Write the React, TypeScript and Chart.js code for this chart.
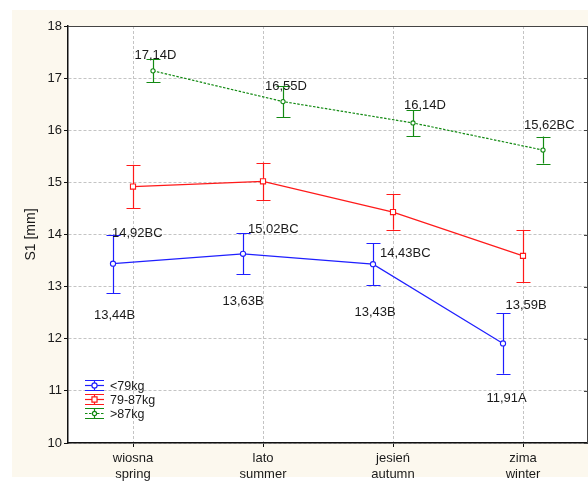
import React, { useEffect, useRef } from "react";
import { Chart, registerables } from "chart.js";

Chart.register(...registerables);

// ---- data ----
const seasonsPl = ["wiosna", "lato", "jesień", "zima"];
const seasonsEn = ["spring", "summer", "autumn", "winter"];
const seriesNames = ["<79kg", "79-87kg", ">87kg"];
const meanLow = [13.44, 13.63, 13.43, 11.91];
const meanMid = [14.92, 15.02, 14.43, 13.59];
const meanHigh = [17.14, 16.55, 16.14, 15.62];
const errLow = [0.56, 0.39, 0.4, 0.58];
const errMid = [0.42, 0.36, 0.34, 0.5];
const errHigh = [0.22, 0.3, 0.25, 0.26];
const labelsLow = ["13,44B", "13,63B", "13,43B", "11,91A"];
const labelsMid = ["14,92BC", "15,02BC", "14,43BC", "13,59B"];
const labelsHigh = ["17,14D", "16,55D", "16,14D", "15,62BC"];
const yTicks = [10, 11, 12, 13, 14, 15, 16, 17, 18];
const yTitle = "S1 [mm]";

// ---- styles ----
const FONT = "'Liberation Sans', Arial, sans-serif";
const PANEL = "#fcf8ee";
const colors = ["#1f1fff", "#ff1a1a", "#138a13"];
const seriesShift = [-20 / 130, 0, 20 / 130];
const pointStyles = ["circle", "rect", "circle"];
const pointRadii = [2.6, 3.6, 2.1];
const lineDashes = [[], [], [2.5, 1.5]];
const capHalf = 7;
// label offsets (px) from the point: [dx to text left, dy to text centre]
const labelOffsets = [
  [[-19, 50.5], [-20.5, 47], [-18.5, 47], [-16.5, 53.5]],
  [[-21, 45.5], [-15, 47], [-13, 40.5], [-17.5, 49]],
  [[-18.5, -16], [-18, -16], [-9, -19], [-19, -26]],
];

const means = [meanLow, meanMid, meanHigh];
const errs = [errLow, errMid, errHigh];
const labels = [labelsLow, labelsMid, labelsHigh];

const customPlugin = {
  id: "custom",
  beforeDraw(chart: any) {
    const { ctx, chartArea: a, width, height } = chart;
    ctx.save();
    ctx.fillStyle = "#ffffff";
    ctx.fillRect(0, 0, width, height);
    ctx.fillStyle = PANEL;
    ctx.fillRect(12, 10, 576, 467);
    ctx.fillStyle = "#ffffff";
    ctx.fillRect(a.left, a.top, a.right - a.left, a.bottom - a.top);
    ctx.restore();
  },
  beforeDatasetsDraw(chart: any) {
    const { ctx, chartArea: a } = chart;
    const ys = chart.scales.y;
    ctx.save();
    // top & right frame
    ctx.strokeStyle = "#444";
    ctx.lineWidth = 1;
    ctx.beginPath();
    ctx.moveTo(a.left, a.top + 0.5);
    ctx.lineTo(a.right, a.top + 0.5);
    ctx.moveTo(a.right - 0.5, a.top);
    ctx.lineTo(a.right - 0.5, a.bottom);
    ctx.stroke();
    ctx.beginPath();
    for (const v of yTicks) {
      const y = Math.round(ys.getPixelForValue(v)) + 0.5;
      ctx.moveTo(a.right - 4, y);
      ctx.lineTo(a.right, y);
    }
    ctx.stroke();
    // error bars
    for (let s = 0; s < 3; s++) {
      const meta = chart.getDatasetMeta(s);
      ctx.strokeStyle = colors[s];
      ctx.lineWidth = 1.2;
      meta.data.forEach((pt: any, j: number) => {
        const yt = ys.getPixelForValue(means[s][j] + errs[s][j]);
        const yb = ys.getPixelForValue(means[s][j] - errs[s][j]);
        const x = Math.round(pt.x) + 0.5;
        ctx.beginPath();
        ctx.moveTo(x, yt);
        ctx.lineTo(x, yb);
        ctx.moveTo(x - capHalf, Math.round(yt) + 0.5);
        ctx.lineTo(x + capHalf, Math.round(yt) + 0.5);
        ctx.moveTo(x - capHalf, Math.round(yb) + 0.5);
        ctx.lineTo(x + capHalf, Math.round(yb) + 0.5);
        ctx.stroke();
      });
    }
    ctx.restore();
  },
  afterDatasetsDraw(chart: any) {
    const { ctx } = chart;
    ctx.save();
    ctx.font = `13px ${FONT}`;
    ctx.fillStyle = "#1a1a1a";
    ctx.textAlign = "left";
    ctx.textBaseline = "alphabetic";
    for (let s = 0; s < 3; s++) {
      const meta = chart.getDatasetMeta(s);
      meta.data.forEach((pt: any, j: number) => {
        const [dx, dy] = labelOffsets[s][j];
        ctx.fillText(labels[s][j], pt.x + dx, pt.y + dy + 4.6);
      });
    }
    // legend
    const lx0 = 85;
    const lx1 = 104;
    const lxm = (lx0 + lx1) / 2;
    for (let s = 0; s < 3; s++) {
      const cy = 385.5 + 14 * s;
      ctx.strokeStyle = colors[s];
      ctx.lineWidth = 1.2;
      ctx.beginPath();
      ctx.moveTo(lx0, cy - 5);
      ctx.lineTo(lx1, cy - 5);
      ctx.moveTo(lx0, cy + 5);
      ctx.lineTo(lx1, cy + 5);
      ctx.moveTo(lxm, cy - 5);
      ctx.lineTo(lxm, cy + 5);
      ctx.stroke();
      ctx.setLineDash(lineDashes[s]);
      ctx.beginPath();
      ctx.moveTo(lx0, cy);
      ctx.lineTo(lx1, cy);
      ctx.stroke();
      ctx.setLineDash([]);
      ctx.fillStyle = "#fff";
      ctx.beginPath();
      if (pointStyles[s] === "rect") {
        const h = pointRadii[s] * Math.SQRT1_2;
        ctx.rect(lxm - h, cy - h, 2 * h, 2 * h);
      } else {
        ctx.arc(lxm, cy, pointRadii[s], 0, Math.PI * 2);
      }
      ctx.fill();
      ctx.stroke();
      ctx.fillStyle = "#1a1a1a";
      ctx.font = `12.5px ${FONT}`;
      ctx.fillText(seriesNames[s], 110, cy + 4.5);
    }
    ctx.restore();
  },
};

export default function App() {
  const ref = useRef<HTMLCanvasElement | null>(null);
  useEffect(() => {
    if (!ref.current) return;
    const datasets = means.map((m, s) => ({
      label: seriesNames[s],
      data: m.map((v, j) => ({ x: j + seriesShift[s], y: v })),
      borderColor: colors[s],
      backgroundColor: "#ffffff",
      borderWidth: 1.2,
      borderDash: lineDashes[s],
      pointStyle: pointStyles[s],
      pointRadius: pointRadii[s],
      pointBorderWidth: 1.1,
      pointBorderColor: colors[s],
      pointBackgroundColor: "#ffffff",
      tension: 0,
      fill: false,
    }));
    const chart = new Chart(ref.current, {
      type: "line",
      data: { datasets },
      plugins: [customPlugin],
      options: {
        animation: false,
        responsive: false,
        events: [],
        layout: { autoPadding: false, padding: { left: 0, right: 0, top: 26, bottom: 0 } },
        plugins: { legend: { display: false }, tooltip: { enabled: false } },
        scales: {
          x: {
            type: "linear",
            min: -0.5,
            max: 3.5,
            afterBuildTicks: (sc: any) => {
              sc.ticks = seasonsPl.map((_, i) => ({ value: i }));
            },
            afterFit: (sc: any) => {
              sc.height = 38;
              sc.paddingLeft = 0;
              sc.paddingRight = 0;
            },
            ticks: {
              autoSkip: false,
              maxRotation: 0,
              padding: 3,
              color: "#1a1a1a",
              font: { family: FONT, size: 13, lineHeight: 1.23 },
              callback: (v: any) => [seasonsPl[v], seasonsEn[v]],
            },
            grid: {
              color: "#c4c4c4",
              lineWidth: 1,
              tickLength: 4,
              tickColor: "#111",
              drawTicks: true,
            },
            border: { display: true, color: "#111", width: 1.5, dash: [3, 2] },
          },
          y: {
            type: "linear",
            min: 10,
            max: 18,
            afterBuildTicks: (sc: any) => {
              sc.ticks = yTicks.map((v) => ({ value: v }));
            },
            afterFit: (sc: any) => {
              sc.width = 68;
              sc.paddingTop = 0;
              sc.paddingBottom = 0;
            },
            ticks: {
              padding: 2,
              color: "#1a1a1a",
              font: { family: FONT, size: 13 },
            },
            grid: {
              color: "#c4c4c4",
              lineWidth: 1,
              tickLength: 4,
              tickColor: "#111",
              drawTicks: true,
            },
            border: { display: true, color: "#111", width: 1.5, dash: [3, 2] },
            title: {
              display: true,
              text: yTitle,
              color: "#1a1a1a",
              font: { family: FONT, size: 14 },
              padding: { top: 23, bottom: 0 },
            },
          },
        },
      },
    } as any);
    return () => chart.destroy();
  }, []);
  return (
    <div style={{ position: "absolute", left: 0, top: 0, width: 588, height: 481 }}>
      <canvas ref={ref} width={588} height={481} style={{ display: "block" }} />
    </div>
  );
}
